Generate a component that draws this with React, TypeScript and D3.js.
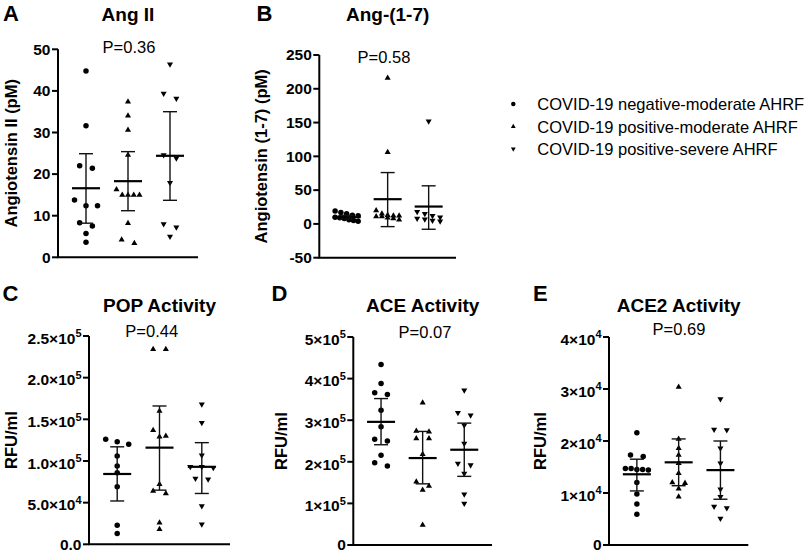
import React from "react";
import * as d3 from "d3";

const FONT = "'Liberation Sans', Arial, Helvetica, sans-serif";

const groupNames = [
  "COVID-19 negative-moderate AHRF",
  "COVID-19 positive-moderate AHRF",
  "COVID-19 positive-severe AHRF",
];
const markerKinds = ["circle", "up", "down"];

// A: Ang II (pM)
const angII_neg = [44.8, 31.6, 22.0, 21.4, 13.8, 12.4, 12.4, 8.3, 7.5, 5.7, 3.6];
const angII_posMod = [37.4, 34.0, 30.6, 24.6, 16.3, 15.0, 15.0, 15.0, 15.0, 8.2, 4.2, 3.4];
const angII_posSev = [46.4, 39.4, 38.2, 24.6, 23.8, 17.9, 8.0, 7.2, 5.0];
const angII_mean = [16.6, 18.3, 24.4];
const angII_lo = [8.2, 11.2, 13.7];
const angII_hi = [24.9, 25.4, 35.0];
const angII_ticks = [0, 10, 20, 30, 40, 50];
const angII_tickLabels = ["0", "10", "20", "30", "40", "50"];

// B: Ang-(1-7) (pM)
const ang17_neg = [19, 17, 15, 13, 12, 10, 9, 8, 6, 5, 4];
const ang17_posMod = [216, 106, 20, 15, 13, 12, 12, 11, 11, 9, 8, 6];
const ang17_posSev = [152, 18, 15, 12, 10, 8, 7, 5, 4];
const ang17_mean = [10, 36.6, 25.7];
const ang17_lo = [7.6, -4, -7.9];
const ang17_hi = [12.8, 76, 56.4];
const ang17_ticks = [-50, 0, 50, 100, 150, 200, 250];
const ang17_tickLabels = ["-50", "0", "50", "100", "150", "200", "250"];

// C: POP activity (RFU/ml)
const pop_neg = [126000, 123000, 120000, 106000, 94000, 86000, 69000, 23000, 13000];
const pop_posMod = [234000, 234000, 160000, 137000, 130000, 129000, 72000, 64000, 61000, 26000, 18000];
const pop_posSev = [168000, 146000, 107000, 93000, 92000, 93000, 79000, 78000, 46000, 24000];
const pop_mean = [84400, 116000, 93000];
const pop_lo = [52000, 65000, 61000];
const pop_hi = [117000, 166000, 122000];
const pop_ticks = [0, 50000, 100000, 150000, 200000, 250000];
const pop_tickLabels = ["0.0", "5.0×10^4", "1.0×10^5", "1.5×10^5", "2.0×10^5", "2.5×10^5"];

// D: ACE activity (RFU/ml)
const ace_neg = [434000, 388000, 366000, 362000, 324000, 284000, 254000, 250000, 216000, 198000, 190000];
const ace_posMod = [342000, 274000, 272000, 256000, 256000, 218000, 152000, 142000, 132000, 48000];
const ace_posSev = [372000, 318000, 312000, 288000, 244000, 196000, 192000, 172000, 122000, 100000];
const ace_mean = [296000, 209000, 229000];
const ace_lo = [241000, 147000, 165000];
const ace_hi = [352000, 273000, 293000];
const ace_ticks = [0, 100000, 200000, 300000, 400000, 500000];
const ace_tickLabels = ["0", "1×10^5", "2×10^5", "3×10^5", "4×10^5", "5×10^5"];

// E: ACE2 activity (RFU/ml)
const ace2_neg = [21600, 17300, 17000, 14700, 14500, 14500, 14400, 14700, 12000, 9800, 7900, 5900];
const ace2_posMod = [30400, 20400, 18600, 17300, 15700, 13800, 12000, 11900, 10800, 9300];
const ace2_posSev = [28100, 22200, 22100, 18600, 15700, 10700, 9300, 7400, 7100, 5100];
const ace2_mean = [13600, 15900, 14400];
const ace2_lo = [10400, 11400, 8800];
const ace2_hi = [16500, 20400, 20000];
const ace2_ticks = [0, 10000, 20000, 30000, 40000];
const ace2_tickLabels = ["0", "1×10^4", "2×10^4", "3×10^4", "4×10^4"];

type PanelSpec = {
  letter: string;
  title: string;
  pText: string;
  yLabel: string;
  series: number[][];
  mean: number[];
  lo: number[];
  hi: number[];
  ticks: number[];
  tickLabels: string[];
  domain: [number, number];
  layout: {
    x0: number; x1: number; yTop: number; yBottom: number;
    letterX: number; letterY: number; titleY: number;
    pX: number; pY: number; yLabelX: number;
  };
};

const panels: PanelSpec[] = [
  {
    letter: "A", title: "Ang II", pText: "P=0.36", yLabel: "Angiotensin II (pM)",
    series: [angII_neg, angII_posMod, angII_posSev], mean: angII_mean, lo: angII_lo, hi: angII_hi,
    ticks: angII_ticks, tickLabels: angII_tickLabels, domain: [0, 50],
    layout: { x0: 58, x1: 198, yTop: 49.3, yBottom: 257.3, letterX: 3, letterY: 20.7, titleY: 20.7, pX: 129, pY: 53.3, yLabelX: 17 },
  },
  {
    letter: "B", title: "Ang-(1-7)", pText: "P=0.58", yLabel: "Angiotensin (1-7) (pM)",
    series: [ang17_neg, ang17_posMod, ang17_posSev], mean: ang17_mean, lo: ang17_lo, hi: ang17_hi,
    ticks: ang17_ticks, tickLabels: ang17_tickLabels, domain: [-50, 250],
    layout: { x0: 319.3, x1: 456, yTop: 55, yBottom: 257.7, letterX: 256.5, letterY: 20.7, titleY: 20.7, pX: 384, pY: 63.3, yLabelX: 267 },
  },
  {
    letter: "C", title: "POP Activity", pText: "P=0.44", yLabel: "RFU/ml",
    series: [pop_neg, pop_posMod, pop_posSev], mean: pop_mean, lo: pop_lo, hi: pop_hi,
    ticks: pop_ticks, tickLabels: pop_tickLabels, domain: [0, 250000],
    layout: { x0: 89, x1: 230, yTop: 336, yBottom: 544.3, letterX: 2.5, letterY: 300.7, titleY: 311.5, pX: 151.7, pY: 337.3, yLabelX: 16.5 },
  },
  {
    letter: "D", title: "ACE Activity", pText: "P=0.07", yLabel: "RFU/ml",
    series: [ace_neg, ace_posMod, ace_posSev], mean: ace_mean, lo: ace_lo, hi: ace_hi,
    ticks: ace_ticks, tickLabels: ace_tickLabels, domain: [0, 500000],
    layout: { x0: 353.3, x1: 492, yTop: 337, yBottom: 545, letterX: 271.5, letterY: 300.7, titleY: 311.5, pX: 425, pY: 338, yLabelX: 286.5 },
  },
  {
    letter: "E", title: "ACE2 Activity", pText: "P=0.69", yLabel: "RFU/ml",
    series: [ace2_neg, ace2_posMod, ace2_posSev], mean: ace2_mean, lo: ace2_lo, hi: ace2_hi,
    ticks: ace2_ticks, tickLabels: ace2_tickLabels, domain: [0, 40000],
    layout: { x0: 609, x1: 748.3, yTop: 337, yBottom: 545, letterX: 533, letterY: 300.7, titleY: 311.5, pX: 679, pY: 335, yLabelX: 545.5 },
  },
];

const circleArea = Math.PI * 2.75 * 2.75;
const triArea = 16;

function markerPath(kind: string, area: number): string {
  return kind === "circle"
    ? (d3.symbol().type(d3.symbolCircle).size(area)() as string)
    : (d3.symbol().type(d3.symbolTriangle).size(area)() as string);
}

// Prism-like row spreading of points with similar values
function dodge(vals: number[], y: (v: number) => number): number[] {
  const idx = vals.map((_, i) => i).sort((a, b) => y(vals[a]) - y(vals[b]));
  const off = new Array(vals.length).fill(0);
  let row: number[] = [];
  let start: number | null = null;
  const flush = () => {
    const n = row.length;
    const sp = n > 1 ? Math.min(12.7, 23 / (n - 1)) : 0;
    row.forEach((k, j) => (off[k] = (j - (n - 1) / 2) * sp));
  };
  for (const i of idx) {
    const py = y(vals[i]);
    if (start === null || py - start > 6) {
      flush();
      row = [];
      start = py;
    }
    row.push(i);
  }
  flush();
  return off;
}

function TickLabel({ x, y, label }: { x: number; y: number; label: string }) {
  const parts = label.split("^");
  if (parts.length === 1) {
    return (
      <text x={x} y={y + 5.2} textAnchor="end" fontFamily={FONT} fontWeight="bold" fontSize={15.5}>
        {label}
      </text>
    );
  }
  return (
    <text x={x} y={y + 7.8} textAnchor="end" fontFamily={FONT} fontWeight="bold" fontSize={15.5}>
      {parts[0]}
      <tspan fontSize={11} dy={-6.5}>{parts[1]}</tspan>
    </text>
  );
}

function Panel({ p }: { p: PanelSpec }) {
  const L = p.layout;
  const y = d3.scaleLinear().domain(p.domain).range([L.yBottom, L.yTop]);
  const x = d3.scalePoint<number>().domain([0, 1, 2]).range([L.x0, L.x1]).padding(2 / 3);
  const cx = (L.x0 + L.x1) / 2;
  const cy = (L.yTop + L.yBottom) / 2;
  return (
    <g>
      <text x={L.letterX} y={L.letterY} fontFamily={FONT} fontWeight="bold" fontSize={22}>{p.letter}</text>
      <text x={cx} y={L.titleY} textAnchor="middle" fontFamily={FONT} fontWeight="bold" fontSize={19}>{p.title}</text>
      <text x={L.pX} y={L.pY} textAnchor="middle" fontFamily={FONT} fontSize={16.5}>{p.pText}</text>
      <text
        transform={`translate(${L.yLabelX},${cy}) rotate(-90)`}
        textAnchor="middle" fontFamily={FONT} fontWeight="bold" fontSize={16.5}
      >
        {p.yLabel}
      </text>
      {/* axes */}
      <path d={`M${L.x0},${L.yTop}V${L.yBottom}H${L.x1}`} fill="none" stroke="#000" strokeWidth={2} />
      {p.ticks.map((t, i) => (
        <g key={i}>
          <line x1={L.x0 - 6} x2={L.x0} y1={y(t)} y2={y(t)} stroke="#000" strokeWidth={2} />
          <TickLabel x={L.x0 - 7.5} y={y(t)} label={p.tickLabels[i]} />
        </g>
      ))}
      {/* points */}
      {p.series.map((vals, gi) => {
        const offs = dodge(vals, (v) => y(v));
        const kind = markerKinds[gi];
        const d = markerPath(kind, kind === "circle" ? circleArea : triArea);
        return (
          <g key={gi}>
            {vals.map((v, i) => (
              <path
                key={i}
                d={d}
                transform={`translate(${(x(gi) as number) + offs[i]},${y(v)})${kind === "down" ? " rotate(180)" : ""}`}
                fill="#000"
              />
            ))}
          </g>
        );
      })}
      {/* mean and error bars */}
      {p.mean.map((m, gi) => {
        const gx = x(gi) as number;
        return (
          <g key={gi} stroke="#111">
            <line x1={gx} x2={gx} y1={y(p.lo[gi])} y2={y(p.hi[gi])} strokeWidth={1.4} />
            <line x1={gx - 7} x2={gx + 7} y1={y(p.lo[gi])} y2={y(p.lo[gi])} strokeWidth={1.4} />
            <line x1={gx - 7} x2={gx + 7} y1={y(p.hi[gi])} y2={y(p.hi[gi])} strokeWidth={1.4} />
            <line x1={gx - 14} x2={gx + 14} y1={y(m)} y2={y(m)} strokeWidth={2.2} stroke="#000" />
          </g>
        );
      })}
    </g>
  );
}

function Legend() {
  const ly = d3.scalePoint<number>().domain([0, 1, 2]).range([104, 149]);
  return (
    <g>
      {groupNames.map((name, i) => {
        const kind = markerKinds[i];
        const d = markerPath(kind, kind === "circle" ? 16 : 10);
        const yy = ly(i) as number;
        return (
          <g key={i}>
            <path d={d} transform={`translate(513.3,${yy})${kind === "down" ? " rotate(180)" : ""}`} fill="#000" />
            <text x={537.3} y={yy + 6.2} fontFamily={FONT} fontSize={16.5}>{name}</text>
          </g>
        );
      })}
    </g>
  );
}

export default function App() {
  return (
    <svg
      width={810}
      height={557}
      viewBox="0 0 810 557"
      style={{ position: "absolute", left: 0, top: 0, background: "#fff" }}
    >
      <rect width={810} height={557} fill="#fff" />
      {panels.map((p, i) => (
        <Panel key={i} p={p} />
      ))}
      <Legend />
    </svg>
  );
}
